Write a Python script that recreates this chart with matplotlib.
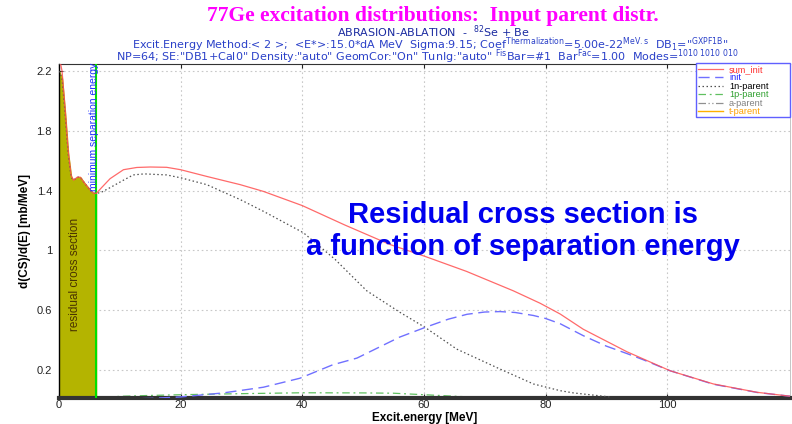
import matplotlib
matplotlib.use("Agg")
import matplotlib.pyplot as plt
from matplotlib.patches import Rectangle

plt.rcParams["font.family"] = ["Liberation Sans", "DejaVu Sans"]
plt.rcParams["mathtext.fontset"] = "custom"
plt.rcParams["mathtext.rm"] = "DejaVu Sans"
plt.rcParams["mathtext.it"] = "DejaVu Sans:italic"
plt.rcParams["mathtext.bf"] = "DejaVu Sans:bold"

# ---- data: excitation energy [MeV] and d(CS)/d(E) [mb/MeV] ----
sum_init_E = [0.0, 0.5, 1.0, 1.5, 2.0, 2.4, 3.0, 3.5, 4.2, 5.0, 5.6, 6.1, 7.0, 8.4,
              10.6, 12.8, 15.0, 17.7, 20.0, 24.3, 29.8, 33.6, 40.0, 47.0, 54.4,
              60.2, 67.0, 74.7, 79.1, 82.4, 86.2, 93.4, 100.5, 107.6, 114.8, 120.2]
sum_init_v = [2.30, 2.20, 1.95, 1.67, 1.50, 1.47, 1.49, 1.49, 1.45, 1.41, 1.385, 1.38,
              1.42, 1.48, 1.54, 1.555, 1.558, 1.556, 1.54, 1.495, 1.44, 1.395, 1.30,
              1.17, 1.04, 0.96, 0.86, 0.73, 0.647, 0.575, 0.473, 0.322, 0.195, 0.107,
              0.051, 0.025]

n1_E = [0.0, 0.5, 1.0, 1.5, 2.0, 2.4, 3.0, 3.5, 4.2, 5.0, 5.6, 6.1, 7.0, 8.4, 10.6,
        12.2, 14.0, 17.7, 20.1, 24.3, 29.8, 33.6, 40.2, 45.4, 50.6, 56.1, 60.2,
        65.4, 72.5, 78.0, 82.4, 84.6, 90.6]
n1_v = [2.20, 2.15, 1.92, 1.65, 1.49, 1.47, 1.49, 1.49, 1.45, 1.41, 1.385, 1.38,
        1.39, 1.42, 1.47, 1.505, 1.512, 1.505, 1.485, 1.44, 1.34, 1.262, 1.118,
        0.94, 0.73, 0.585, 0.485, 0.34, 0.207, 0.107, 0.062, 0.047, 0.02]

init_E = [0.0, 10.0, 15.0, 20.0, 27.0, 33.6, 39.6, 45.0, 49.0, 52.0, 56.0, 60.2,
          64.0, 67.1, 70.0, 72.5, 75.0, 78.0, 80.0, 82.4, 86.2, 90.0, 93.4, 96.0,
          100.5, 107.6, 114.8, 120.2]
init_v = [0.005, 0.005, 0.01, 0.02, 0.047, 0.085, 0.145, 0.235, 0.28, 0.34, 0.42,
          0.485, 0.54, 0.573, 0.588, 0.591, 0.585, 0.565, 0.545, 0.51, 0.43, 0.36,
          0.31, 0.27, 0.195, 0.105, 0.05, 0.025]

p1_E = [5.0, 8.0, 10.6, 15.0, 20.0, 30.0, 40.0, 50.0, 55.0, 60.0, 65.0, 70.0, 75.0]
p1_v = [0.0, 0.02, 0.025, 0.03, 0.035, 0.042, 0.048, 0.047, 0.045, 0.035, 0.025,
        0.015, 0.005]

a_E = [5.0, 10.0, 15.0, 20.0, 30.0, 40.0]
a_v = [0.005, 0.018, 0.02, 0.015, 0.01, 0.005]

t_E = [0.0, 120.2]
t_v = [0.0, 0.0]

sep_energy = 6.1
xticks = [0, 20, 40, 60, 80, 100]
yticks = [0.2, 0.6, 1.0, 1.4, 1.8, 2.2]
ytick_labels = ["0.2", "0.6", "1", "1.4", "1.8", "2.2"]

W, H = 792, 424

# ---- figure ----
fig = plt.figure(figsize=(W / 100, H / 100), dpi=100)
ax = fig.add_axes([59 / W, 26.3 / H, 731 / W, 333.4 / H])
ax.set_xlim(0, 120.2)
ax.set_ylim(0.015, 2.245)

# residual cross section below the minimum separation energy
fill_E = [e for e in n1_E if e <= sep_energy]
fill_v = n1_v[:len(fill_E)]
ax.fill_between(fill_E, 0, fill_v, color="#b4b400", zorder=1)
ax.axvline(sep_energy, color="#00e000", lw=1.5, zorder=3)

ax.plot(t_E, t_v, color="#ffb000", lw=1.0, label="t-parent", zorder=2)
ax.plot(a_E, a_v, color="#909090", lw=0.9, dashes=[6, 2, 1, 2, 1, 2],
        label="a-parent", zorder=2)
ax.plot(p1_E, p1_v, color="#60c060", lw=0.9, dashes=[6, 3, 1.5, 3],
        label="1p-parent", zorder=2)
ax.plot(n1_E, n1_v, color="#505050", lw=0.9, dashes=[1.2, 2.0],
        label="1n-parent", zorder=4)
ax.plot(init_E, init_v, color="#7070ff", lw=1.0, dashes=[8, 4],
        label="init", zorder=4)
ax.plot(sum_init_E, sum_init_v, color="#ff5050", lw=0.9, alpha=0.85,
        label="sum_init", zorder=5)

# grid, ticks, frame
ax.set_xticks(xticks)
ax.set_yticks(yticks)
ax.set_yticklabels(ytick_labels)
ax.grid(True, color="#c8c8c8", linestyle=(0, (1.5, 2.5)), lw=0.8)
ax.set_axisbelow(True)
ax.tick_params(axis="both", direction="in", length=3, width=0.8,
               labelsize=8, colors="#222222", top=True, right=False)
ax.tick_params(axis="x", pad=2)
ax.tick_params(axis="y", pad=5)
ax.spines["left"].set_color("black")
ax.spines["left"].set_linewidth(1.0)
ax.spines["bottom"].set_color("#333333")
ax.spines["bottom"].set_linewidth(3.0)
ax.spines["top"].set_color("#333333")
ax.spines["top"].set_linewidth(0.8)
ax.spines["right"].set_color("#bbbbbb")
ax.spines["right"].set_linewidth(0.6)

ax.set_xlabel("Excit.energy [MeV]", fontsize=8.5, fontweight="bold", labelpad=1)
ax.set_ylabel("d(CS)/d(E) [mb/MeV]", fontsize=8.5, fontweight="bold", labelpad=4)

# legend: entries without frame, box drawn as its own patch
box = Rectangle((696 / W, 1 - 117 / H), 94 / W, 54 / H, transform=fig.transFigure,
                facecolor="white", edgecolor="#6060ff", lw=1.0, zorder=6,
                clip_on=False)
ax.add_patch(box)
order = ["sum_init", "init", "1n-parent", "1p-parent", "a-parent", "t-parent"]
handles, labels = ax.get_legend_handles_labels()
hmap = dict(zip(labels, handles))
leg = ax.legend([hmap[k] for k in order], order, loc="upper left",
                bbox_to_anchor=(697 / W, 1 - 64 / H), bbox_transform=fig.transFigure,
                prop={"size": 6.6}, frameon=False, borderpad=0.1,
                labelspacing=-0.06, handlelength=2.7, handletextpad=0.7,
                borderaxespad=0.0)
leg.set_zorder(7)
text_colors = ["#ff3030", "#2020ff", "#000000", "#30a030", "#808080", "#ffa000"]
for txt, c in zip(leg.get_texts(), text_colors):
    txt.set_color(c)

# annotations inside the plot
ax.text(5.7, 1.40, "minimum separation energy", rotation=90, ha="center",
        va="bottom", fontsize=7.5, color="#2030ff", zorder=6)
ax.text(2.6, 0.84, "residual cross section", rotation=90, ha="center",
        va="center", fontsize=8.5, color="#4a3300", zorder=6)
ax.text(76.3, 1.24, "Residual cross section is", ha="center", va="center",
        fontsize=21, fontweight="bold", color="#0000ee", zorder=6)
ax.text(76.3, 1.025, "a function of separation energy", ha="center", va="center",
        fontsize=21, fontweight="bold", color="#0000ee", zorder=6)

# header lines
fig.text(433 / W, 1 - 15.5 / H, "77Ge excitation distributions:  Input parent distr.",
         ha="center", va="center", fontsize=15.5, fontweight="bold",
         family=["Liberation Serif", "DejaVu Serif"], color="#ff00ff")
fig.text(433 / W, 1 - 31.5 / H, r"ABRASION-ABLATION  -  $^{82}$Se + Be",
         ha="center", va="center", fontsize=8, family="DejaVu Sans",
         color="#1a2aa0")
fig.text(430 / W, 1 - 45 / H,
         'Excit.Energy Method:< 2 >;  <E*>:15.0*dA MeV  Sigma:9.15; '
         r'Coef$^{\mathrm{Thermalization}}$=5.00e-22$^{\mathrm{MeV.s}}$  '
         r'DB$_{1}$="$^{\mathrm{GXPF1B}}$"',
         ha="center", va="center", fontsize=8, family="DejaVu Sans",
         color="#2a40c8")
fig.text(427 / W, 1 - 57 / H,
         'NP=64; SE:"DB1+Cal0" Density:"auto" GeomCor:"On" TunIg:"auto" '
         r'$^{\mathrm{Fis}}$Bar=#1  Bar$^{\mathrm{Fac}}$=1.00  '
         r'Modes=$^{\mathrm{1010\ 1010\ 010}}$',
         ha="center", va="center", fontsize=8, family="DejaVu Sans",
         color="#2a40c8")

fig.savefig("out.png", dpi=100)
